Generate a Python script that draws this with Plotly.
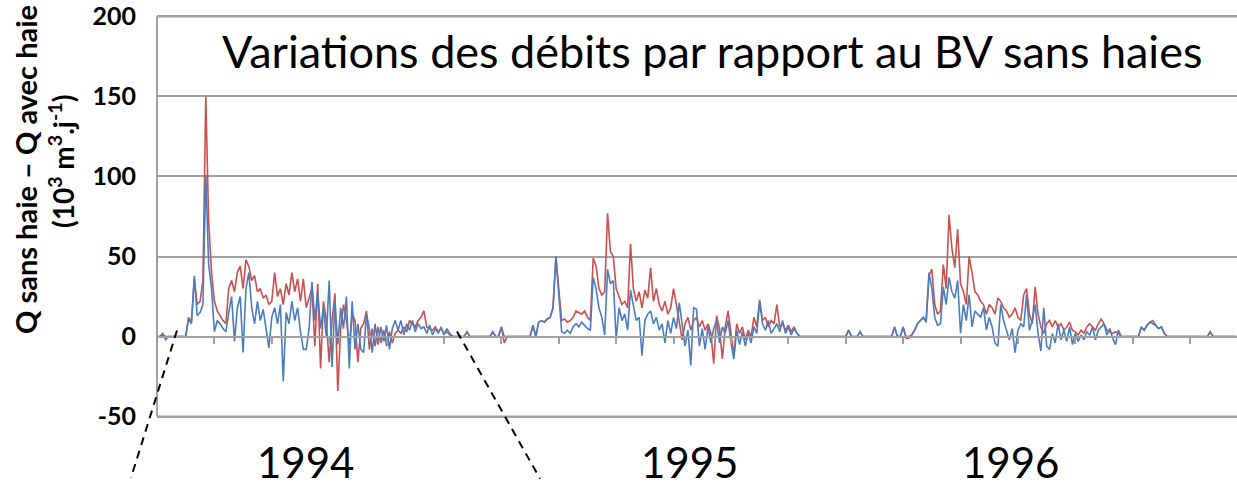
import plotly.graph_objects as go

# Daily discharge differences (10^3 m3/day), one value every 3 days.
STEP_DAYS = 3

red_y1 = [
    0, 0, 1, 0, 0, 0, 0, 0, 0, 0, 0,
    12, 9, 36, 20, 22, 35, 150, 72, 40, 22,
    16, 13, 10, 8, 30, 35, 28, 40, 44, 30,
    48, 44, 35, 38, 28, 30, 24, 26, 20, 22,
    40, 25, 30, 20, 33, 26, 40, 28, 36, 22,
    36, 18, 24, 30, -6, 33, -20, 22, 10, -16,
    10, 27, -34, 5, 20, 10, -5, 14, 10, -16,
    5, 8, 16, -8, 5, -6, 6, -4, 4, -6,
    3, -4, 2, 4, 2, 6, 3, 10, 8, 6,
    10, 12, 16, 6, 5, 4, 6, 3, 5, 2,
    3, 1, 0, 0, 0, 0, 0, 3, 0, 0,
    0, 0, 0, 0, 0, 0, 3, 0, 0, 6,
]
red_y2 = [
    -4, 0, 0, 0, 0, 0, 0, 0, 0, 0,
    7, 0, 9, 10, 9, 11, 12, 18, 50, 30,
    10, 11, 9, 10, 12, 16, 15, 14, 16, 12,
    10, 49, 44, 30, 26, 28, 77, 53, 50, 30,
    25, 20, 22, 18, 58, 30, 22, 28, 18, 29,
    24, 43, 22, 30, 20, 16, 22, 14, 18, 30,
    20, 10, -2, 8, 12, 4, 10, 12, 6, 10,
    4, 8, 2, -17, 13, 5, -14, 6, 16, 2,
    -12, 8, 2, 6, -2, 4, 0, 12, 6, 23,
    10, 12, 6, 10, 8, 20, 6, 8, 4, 7,
    3, 6, 2, 0, 0, 0, 0, 0, 0, 0,
    0, 0, 0, 0, 0, 0, 0, 0, 0, 0,
]
red_y3 = [
    4, 0, 0, 0, 3, 0, 0, 0, 0, 0,
    0, 0, 0, 0, 0, 0, 6, 0, 0, 6,
    -1, -1, 1, 4, 8, 10, 12, 9, 38, 42,
    20, 14, 16, 45, 30, 76, 55, 43, 67, 33,
    28, 20, 50, 40, 28, 26, 22, 20, 14, 20,
    18, 14, 24, 22, 18, 16, 12, 14, 18, 12,
    10, 26, 30, 14, 8, 31, 14, 6, 2, 8,
    10, 6, 10, 6, 8, 4, 6, 9, 4, 3,
    1, 4, 2, 6, 8, 6, 4, 8, 11, 8,
    4, 3, 2, 3, 2, 0, 0, 0, 0, 0,
    0, 0, 6, 4, 7, 9, 10, 7, 5, 6,
    2, 0, 0, 0, 0, 0, 0, 0, 0, 0,
    0, 0, 0, 0, 0, 0, 3, 0, 0, 0,
    0, 0, 0, 0, 0, 0,
]

blue_y1 = [
    0, 0, 2, -2, 0, 0, 0, 0, 0, 0, 0,
    11, 8, 38, 13, 15, 20, 101, 45, 30, 3,
    10, 8, 5, 3, 15, 25, -3, 18, 25, -10,
    30, 40, 18, 8, 22, 10, 17, 5, -7, 12,
    18, 8, 20, -28, 15, 8, 22, 10, 18, 3,
    -8, -8, 5, 34, 10, 28, 5, 18, 0, 35,
    -19, 22, -5, 18, 5, 25, -20, 22, -8, 8,
    -8, -10, 14, 5, -10, 8, -5, 6, -3, 7,
    -8, 5, 10, 4, 10, 1, 8, 4, 10, 3,
    8, 5, 6, 2, 7, 1, 5, 2, 6, 1,
    5, 2, 0, 0, 0, 0, 0, 3, 0, 0,
    0, 0, 0, 0, 0, 0, 3, 0, 0, 6,
]
blue_y2 = [
    0, 0, 0, 0, 0, 0, 0, 0, 0, 0,
    7, 0, 9, 10, 9, 11, 12, 18, 50, 27,
    3, 2, 4, 2, 6, 8, 6, 9, 7, 5,
    4, 37, 30, 18, 12, 1, 42, 33, 35, -2,
    18, 10, 14, 4, 29, 20, 10, 12, -12, 10,
    14, 16, 8, 12, 4, 8, -4, 10, 2, 12,
    5, 21, 8, -6, 4, -18, 18, 17, -6, 5,
    -8, 6, -4, 5, 10, -4, 6, 2, 10, -4,
    -14, 4, -5, 3, -6, 2, -4, 6, 2, 22,
    8, 4, 10, 2, 5, 8, 3, 10, 2, 6,
    1, 5, 2, 0, 0, 0, 0, 0, 0, 0,
    0, 0, 0, 0, 0, 0, 0, 0, 0, 0,
]
blue_y3 = [
    4, 0, 0, 0, 3, 0, 0, 0, 0, 0,
    0, 0, 0, 0, 0, 0, 6, 0, 0, 6,
    0, 0, 1, 4, 8, 10, 12, 9, 40, 30,
    12, 7, 8, 31, 20, 37, 28, 24, 35, 2,
    20, 10, 26, 6, 16, 14, 12, 18, 4, 12,
    6, -4, -6, 20, 10, 4, -2, 5, -10, 4,
    8, 6, 26, 4, 10, 20, 2, -9, 18, -6,
    -8, 2, -4, 8, -2, 4, -3, 6, -5, 2,
    -3, 1, -2, 3, 1, 6, -2, 4, 6, 8,
    1, 5, -1, -5, 4, 0, 0, 0, 0, 0,
    0, 0, 6, 4, 7, 9, 8, 7, 5, 6,
    2, 0, 0, 0, 0, 0, 0, 0, 0, 0,
    0, 0, 0, 0, 0, 0, 3, 0, 0, 0,
    0, 0, 0, 0, 0, 0,
]

red = red_y1 + red_y2 + red_y3
blue = blue_y1 + blue_y2 + blue_y3
days = [i * STEP_DAYS for i in range(len(red))]

y_ticks = [-50, 0, 50, 100, 150, 200]
y_tick_text = ["-50", "0", "50", "100", "150", "200"]
year_labels = ["1994", "1995", "1996"]
year_label_px = [305, 689, 1010]

TITLE = "Variations des débits par rapport au BV sans haies"
Y_TITLE_1 = "Q sans haie – Q avec haie"
Y_TITLE_2 = "(10<sup>3</sup> m<sup>3</sup>.j<sup>-1</sup>)"

W, H = 1237, 483
ML, MR, MT, MB = 157, 0, 12, 64
PW, PH = W - ML - MR, H - MT - MB
FONT = "Lato"
GRID = "#A0A0A0"
PAD = 1.5  # keeps the end gridlines clear of the plot edges


def px_to_paper(px, py):
    return (px - ML) / PW, (H - MB - py) / PH


def text_at(text, px, py, size, bold=False, angle=0):
    font = dict(family=FONT, size=size, color="black")
    if bold:
        font["weight"] = "bold"
    return dict(text=text, xref="paper", yref="paper", x=0, y=0,
                xanchor="center", yanchor="middle",
                xshift=px - ML, yshift=(H - MB) - py,
                textangle=angle, showarrow=False, font=font)


fig = go.Figure()
fig.add_trace(go.Scatter(x=days, y=red, mode="lines",
                         line=dict(color="#C9504D", width=1.6),
                         showlegend=False, hoverinfo="skip"))
fig.add_trace(go.Scatter(x=days, y=blue, mode="lines",
                         line=dict(color="#4A7DBF", width=1.6),
                         showlegend=False, hoverinfo="skip"))

ymin, ymax = y_ticks[0] - PAD, y_ticks[-1] + PAD
fig.update_layout(
    width=W, height=H,
    margin=dict(l=ML, r=MR, t=MT, b=MB),
    paper_bgcolor="white", plot_bgcolor="white",
    font=dict(family=FONT, color="black"),
    xaxis=dict(
        range=[0, 1129], anchor="free",
        position=(0 - ymin) / (ymax - ymin),
        showgrid=False, zeroline=False,
        showline=True, linecolor=GRID, linewidth=2,
        ticks="outside", ticklen=6, tickwidth=2, tickcolor=GRID,
        tick0=0, dtick=60, showticklabels=False,
    ),
    yaxis=dict(
        range=[ymin, ymax], tickvals=y_ticks, ticktext=y_tick_text,
        showgrid=True, gridcolor=GRID, gridwidth=2,
        zeroline=False, showline=False,
        ticks="", ticklabelstandoff=20, ticklabeloverflow="allow",
        tickfont=dict(family=FONT, size=25, color="black", weight="bold"),
    ),
)

annotations = [
    text_at(TITLE, 712, 51, 45),
    text_at(Y_TITLE_1, 25, 170, 29, bold=True, angle=-90),
    text_at(Y_TITLE_2, 61, 162, 28, bold=True, angle=-90),
]
for label, px in zip(year_labels, year_label_px):
    annotations.append(text_at(label, px, 462, 42))
fig.update_layout(annotations=annotations)

# outer gridlines at the bottom and top of the value range, and the left frame line
for yv in (y_ticks[0], y_ticks[-1]):
    fig.add_shape(type="line", xref="paper", yref="y", x0=0, x1=1,
                  y0=yv, y1=yv, line=dict(color=GRID, width=2), layer="above")
fig.add_shape(type="line", xref="paper", yref="y", x0=0, x1=0,
              y0=y_ticks[0], y1=y_ticks[-1], line=dict(color=GRID, width=2))

# dashed guides framing the first year
for (a, b) in [((177, 330), (131, 478)), ((457, 331), (540, 479))]:
    x0, y0 = px_to_paper(*a)
    x1, y1 = px_to_paper(*b)
    fig.add_shape(type="line", xref="paper", yref="paper",
                  x0=x0, y0=y0, x1=x1, y1=y1,
                  line=dict(color="black", width=2, dash="8px,6px"))

fig.write_html("out.html")
